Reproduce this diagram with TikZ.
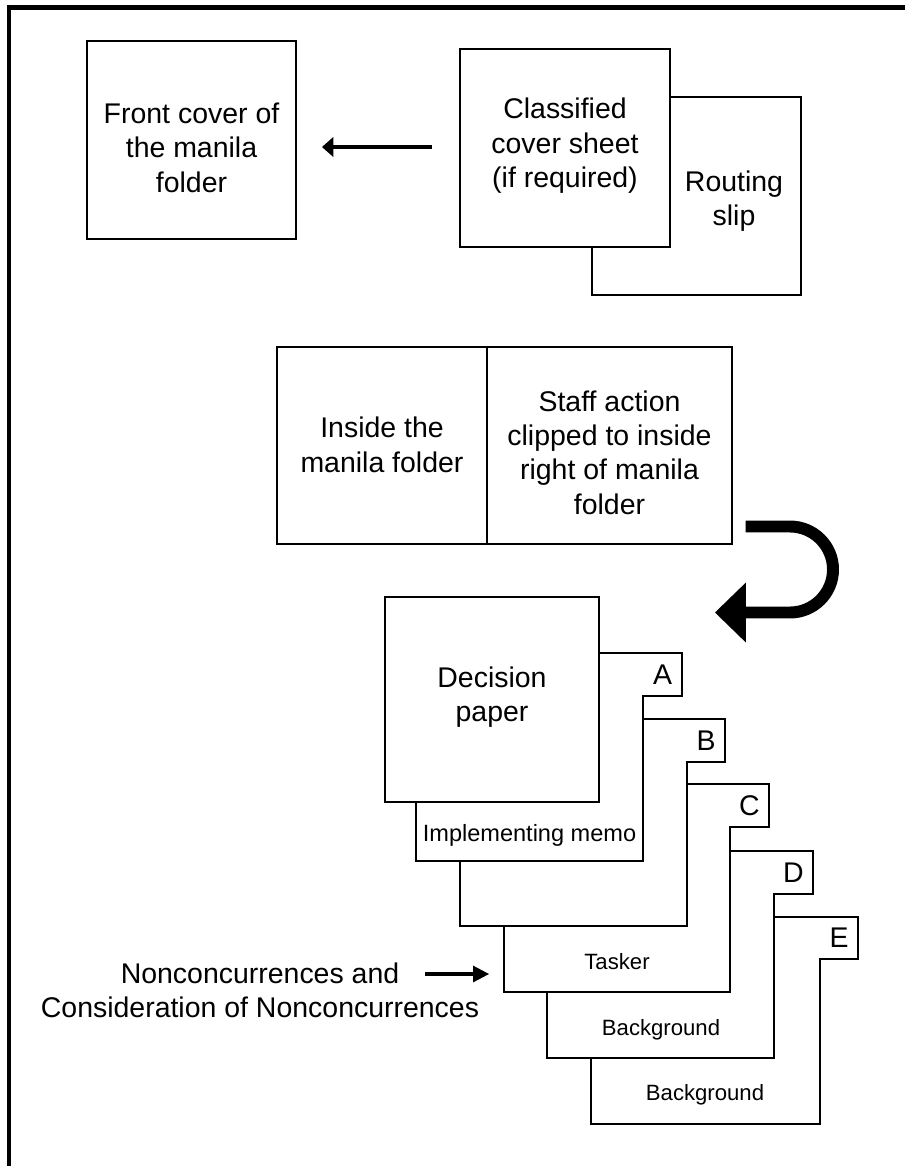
\documentclass[tikz,border=0pt]{standalone}
\usepackage{fontspec}
\setmainfont{Liberation Sans}
\usetikzlibrary{arrows.meta}
\tikzset{
  paper/.style={draw, fill=white, line width=1.1pt},
  lbl/.style={font=\fontsize{16.2}{19.6}\selectfont, align=center, inner sep=0pt},
  sheetlbl/.style={font=\fontsize{12.6}{15}\selectfont, inner sep=0pt},
  thinarrow/.style={line width=2.5pt, -{Triangle[length=6.5pt,width=11.5pt,line width=0pt]}},
  bigarrow/.style={line width=6.8pt, -{Triangle[length=17.5pt,width=34pt,line width=0pt]}}
}
\begin{document}
\begin{tikzpicture}[x=0.02cm, y=-0.02cm]
\useasboundingbox (0,0) rectangle (905,1166);
% frame, top and left only
\draw[line width=2.3pt] (905,7.5)--(9,7.5)--(9,1166);

% front of the folder
\draw[paper] (87,41) rectangle (296,239);
\node[lbl] (front) at (191.5,147.5) {Front cover of\\the manila\\folder};
\draw[paper] (592,97) rectangle (801,295);
\draw[paper] (460,49) rectangle (670,247);
\node[lbl] (cover) at (565,146) {Classified\\cover sheet\\(if required)};
\node[lbl] (slip) at (734,201) {Routing\\slip};
\coordinate (topfrom) at (432,147);
\coordinate (topto) at (322,147);
\draw[thinarrow] (topfrom)--(topto);

% inside of the folder
\draw[paper] (277,347) rectangle (732,544);
\draw[line width=1.1pt] (487,347)--(487,544);
\node[lbl] (inside) at (382,445) {Inside the\\manila folder};
\node[lbl] (staff) at (609.5,452.5) {Staff action\\clipped to inside\\right of manila\\folder};

% turn over
\coordinate (turnfrom) at (745.7,526.5);
\coordinate (turnto) at (715,612.5);
\draw[bigarrow] (turnfrom)--(790,526.5) .. controls (813.75,526.5) and (833,545.75) .. (833,569.5)
  .. controls (833,593.25) and (813.75,612.5) .. (790,612.5)--(turnto);

% stack of tabbed sheets, back to front
\draw[paper] (591,917)--(858,917)--(858,959)--(820,959)--(820,1124)--(591,1124)--cycle;
\draw[paper] (547,851)--(813,851)--(813,894)--(774,894)--(774,1058)--(547,1058)--cycle;
\draw[paper] (504,784)--(769,784)--(769,827)--(730,827)--(730,992)--(504,992)--cycle;
\draw[paper] (460,719)--(725,719)--(725,762)--(687,762)--(687,926)--(460,926)--cycle;
\draw[paper] (416,653)--(682,653)--(682,696)--(643,696)--(643,861)--(416,861)--cycle;
\draw[paper] (385,597) rectangle (599,802);
\node[lbl] (decision) at (492,697) {Decision\\paper};

\node[lbl] (tabA) at (662.5,675) {A};
\node[lbl] (tabB) at (706,741) {B};
\node[lbl] (tabC) at (749.5,806) {C};
\node[lbl] (tabD) at (793.5,873) {D};
\node[lbl] (tabE) at (839,938) {E};

\node[sheetlbl, font=\fontsize{13.4}{16}\selectfont] (memo) at (529.5,835) {Implementing memo};
\node[sheetlbl] (tasker) at (617,962) {Tasker};
\node[sheetlbl] (backD) at (661,1030) {Background};
\node[sheetlbl] (backE) at (705,1095) {Background};

\node[lbl] (noncon) at (260,990.5) {Nonconcurrences and\\Consideration of Nonconcurrences};
\coordinate (nonfrom) at (425,974);
\coordinate (nonto) at (489,974);
\draw[thinarrow, -{Triangle[length=9pt,width=9.5pt,line width=0pt]}] (nonfrom)--(nonto);
\end{tikzpicture}
\end{document}
